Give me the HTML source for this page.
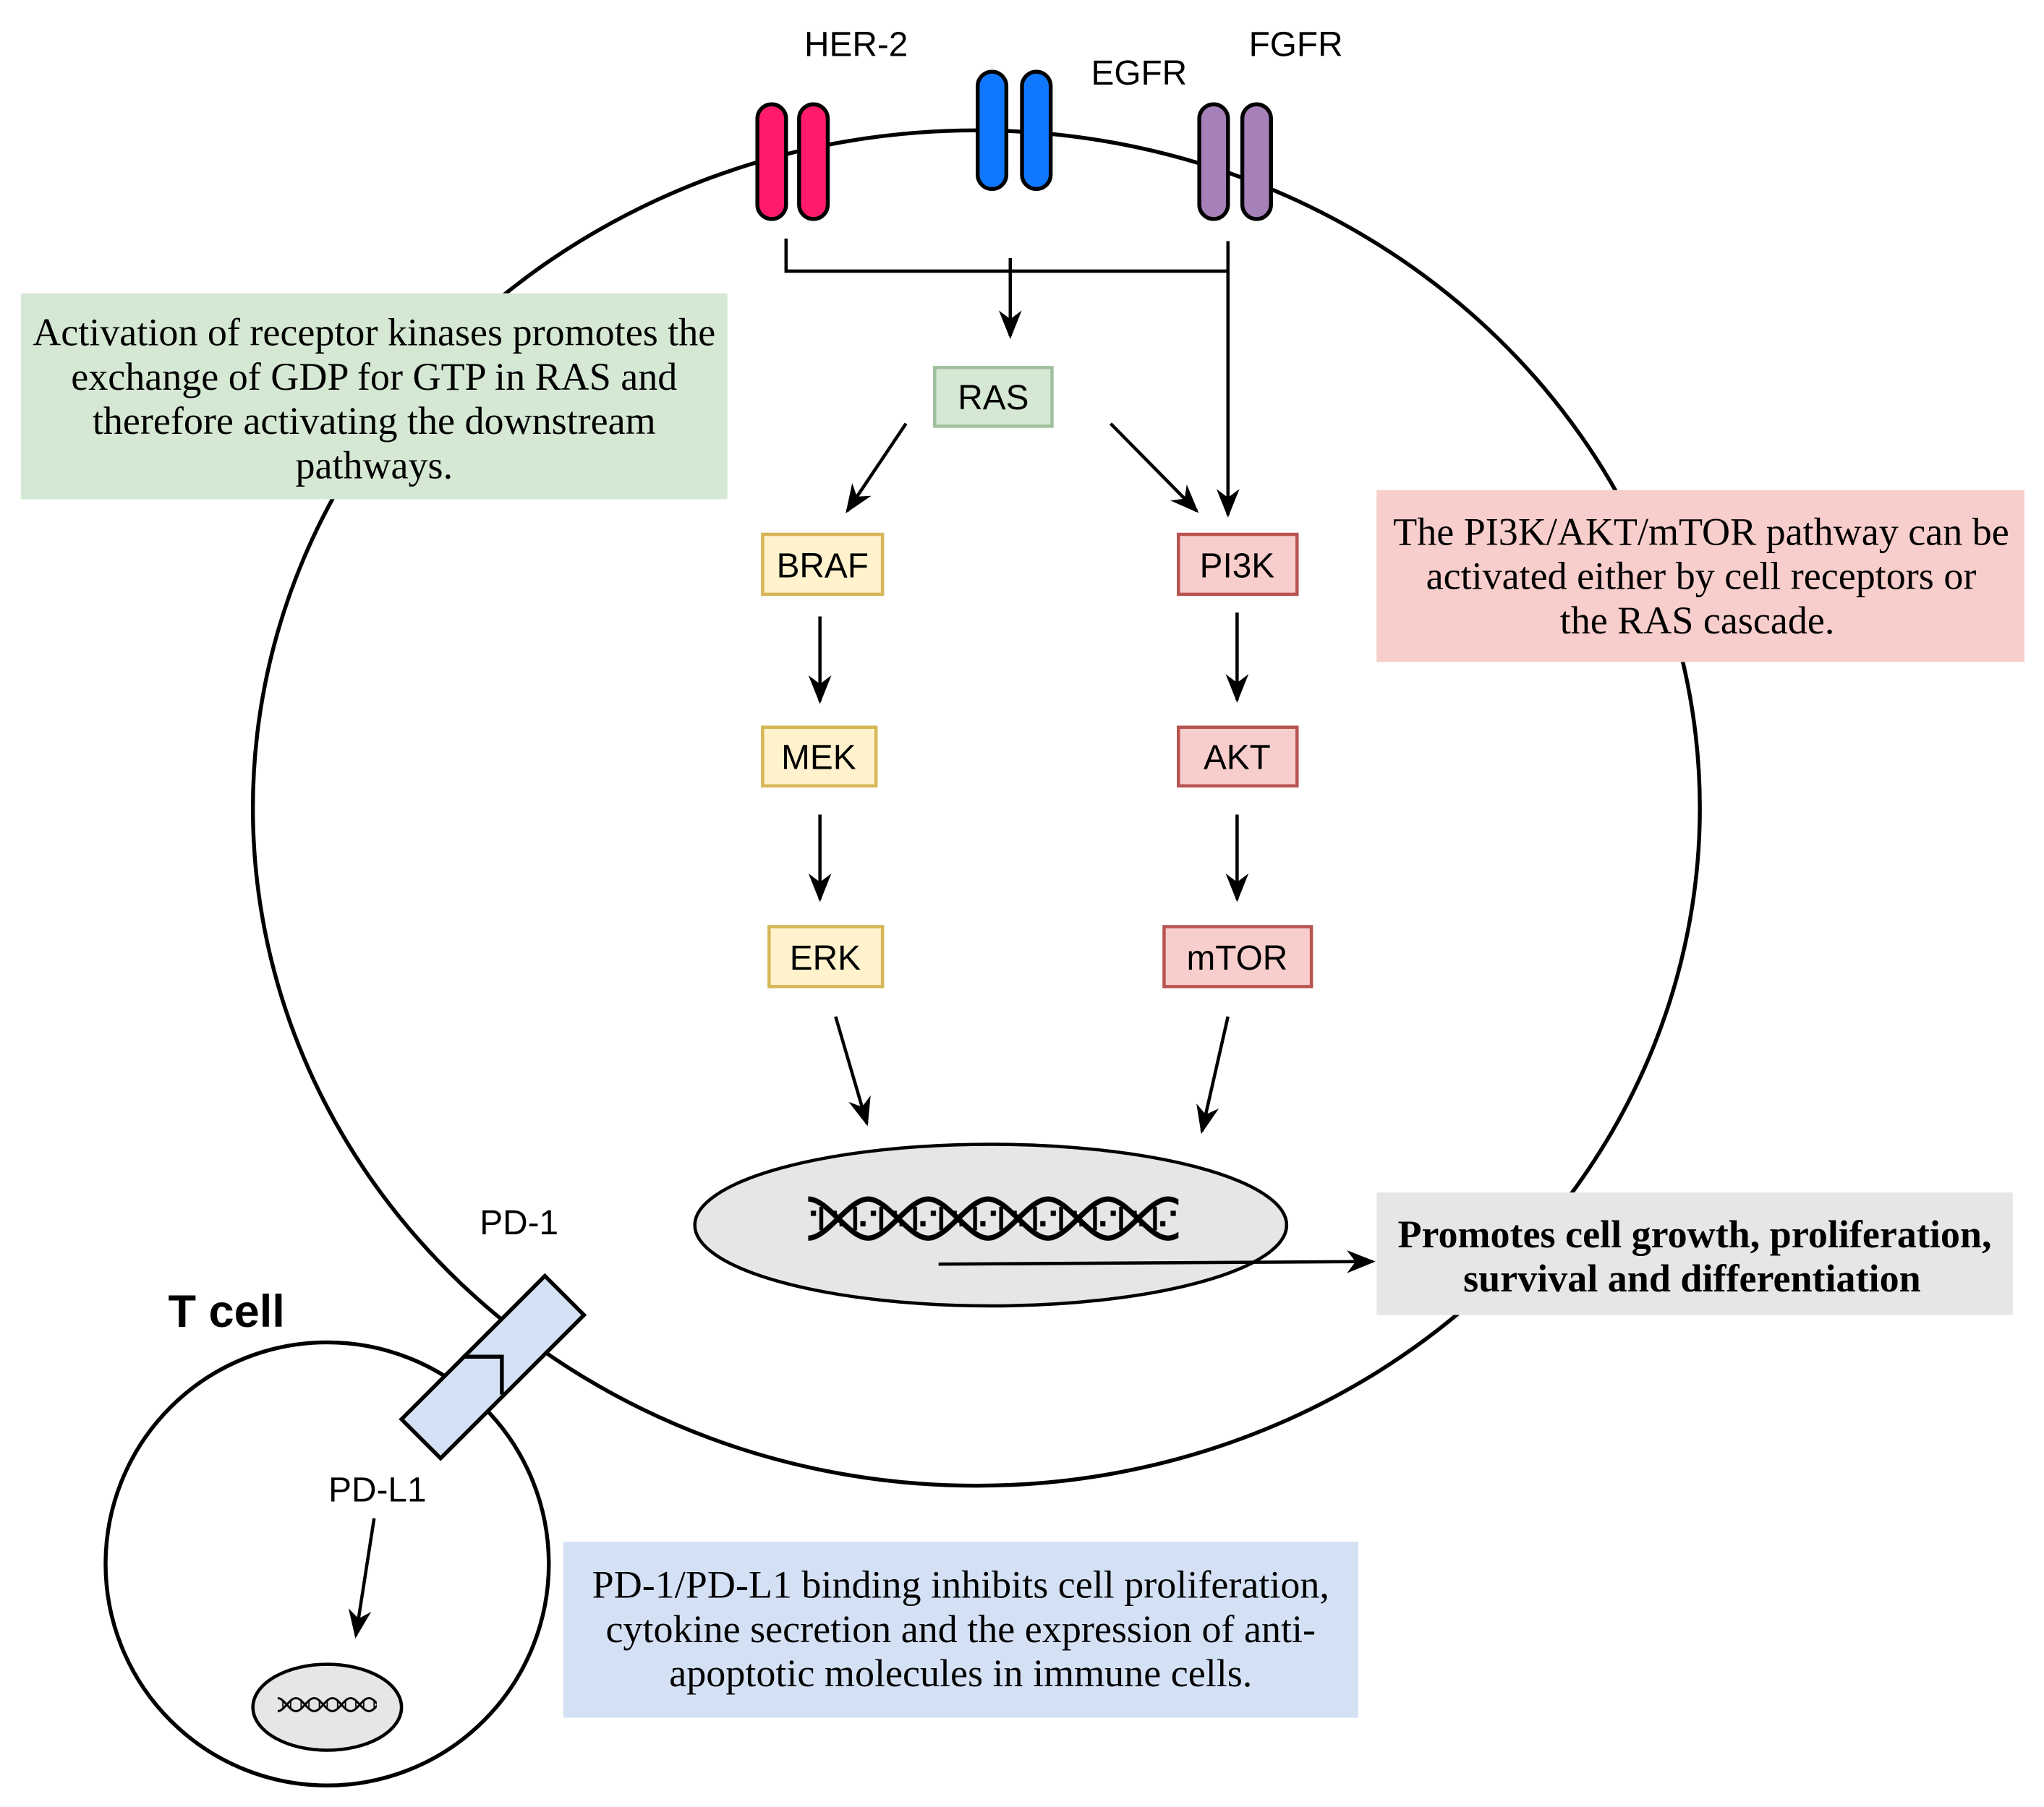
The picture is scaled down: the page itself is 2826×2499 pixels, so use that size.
<!DOCTYPE html>
<html><head><meta charset="utf-8"><style>
html,body{margin:0;padding:0;background:#fff;}
svg{display:block;}
.s{font-family:"Liberation Sans",sans-serif;font-size:26.5px;}
.r{font-family:"Liberation Serif",serif;font-size:30px;}
</style></head><body>
<svg width="2826" height="2499" viewBox="0 0 1568 1386.5" xmlns="http://www.w3.org/2000/svg">
<defs>
<marker id="b" viewBox="0 0 10 10" refX="9" refY="5" markerWidth="22" markerHeight="22" markerUnits="userSpaceOnUse" orient="auto"><path d="M0,1 L10,5 L0,9 L3,5 z" fill="#000"/></marker>
<pattern id="dna" x="620" y="918" width="46" height="34" patternUnits="userSpaceOnUse">
<path d="M0,2 C15,2 31,32 46,32 M0,32 C15,32 31,2 46,2" fill="none" stroke="#000" stroke-width="4"/>
<path d="M10,8 V26 M36,8 V26" stroke="#000" stroke-width="3"/>
<rect x="18" y="11" width="4" height="4"/><rect x="24" y="19" width="4" height="4"/>
<rect x="2" y="11" width="4" height="4"/><rect x="40" y="19" width="4" height="4"/>
</pattern>
<pattern id="dna2" x="213" y="1302" width="14" height="12" patternUnits="userSpaceOnUse">
<path d="M0,1 C5,1 9,11 14,11 M0,11 C5,11 9,1 14,1" fill="none" stroke="#000" stroke-width="1.6"/>
<path d="M4,3 V9 M10,3 V9" stroke="#000" stroke-width="1"/>
</pattern>
</defs>

<ellipse cx="749" cy="620" rx="555" ry="520" fill="none" stroke="#000" stroke-width="3"/>
<circle cx="251" cy="1200" r="170" fill="#fff" stroke="#000" stroke-width="3"/>

<g stroke="#000" stroke-width="3">
<rect x="581" y="80" width="22" height="88" rx="11" fill="#ff1a6b"/>
<rect x="613" y="80" width="22" height="88" rx="11" fill="#ff1a6b"/>
<rect x="750" y="55" width="22" height="90" rx="11" fill="#0f78ff"/>
<rect x="784" y="55" width="22" height="90" rx="11" fill="#0f78ff"/>
<rect x="920" y="80" width="22" height="88" rx="11" fill="#a680b8"/>
<rect x="953" y="80" width="22" height="88" rx="11" fill="#a680b8"/>
</g>
<text class="s" x="617" y="43">HER-2</text>
<text class="s" x="837" y="65">EGFR</text>
<text class="s" x="958" y="43">FGFR</text>

<g stroke="#000" stroke-width="2.5" fill="none">
<path d="M603,183 V208 H942 V185"/>
<path d="M775,198 V208"/>
<path d="M775,208 V258" marker-end="url(#b)"/>
<path d="M942,208 V395" marker-end="url(#b)"/>
<path d="M695,325 L650,392" marker-end="url(#b)"/>
<path d="M852,325 L918,392" marker-end="url(#b)"/>
<path d="M629,473 V538" marker-end="url(#b)"/>
<path d="M629,625 V690" marker-end="url(#b)"/>
<path d="M949,470 V537" marker-end="url(#b)"/>
<path d="M949,625 V690" marker-end="url(#b)"/>
<path d="M641,780 L665,862" marker-end="url(#b)"/>
<path d="M942,780 L922,868" marker-end="url(#b)"/>
</g>

<g stroke-width="2.5">
<rect x="717" y="282" width="90" height="45" fill="#d5e8d4" stroke="#9fc09d"/>
<rect x="585" y="410" width="92" height="46" fill="#fff2cc" stroke="#d6b656"/>
<rect x="585" y="558" width="87" height="45" fill="#fff2cc" stroke="#d6b656"/>
<rect x="590" y="711" width="87" height="46" fill="#fff2cc" stroke="#d6b656"/>
<rect x="904" y="410" width="91" height="46" fill="#f8cecc" stroke="#b85450"/>
<rect x="904" y="558" width="91" height="45" fill="#f8cecc" stroke="#b85450"/>
<rect x="893" y="711" width="113" height="46" fill="#f8cecc" stroke="#b85450"/>
</g>
<g class="s" text-anchor="middle">
<text x="762" y="314">RAS</text>
<text x="631" y="443">BRAF</text>
<text x="628" y="590">MEK</text>
<text x="633" y="744">ERK</text>
<text x="949" y="443">PI3K</text>
<text x="949" y="590">AKT</text>
<text x="949" y="744">mTOR</text>
</g>

<ellipse cx="760" cy="940" rx="227" ry="62" fill="#e6e6e6" stroke="#000" stroke-width="2.5"/>
<rect x="620" y="918" width="284" height="34" fill="url(#dna)"/>
<path d="M720,970 L1053,968" stroke="#000" stroke-width="2.5" marker-end="url(#b)"/>

<rect x="16" y="225" width="542" height="158" fill="#d5e8d4"/>
<g class="r" text-anchor="middle">
<text x="287" y="265">Activation of receptor kinases promotes the</text>
<text x="287" y="299">exchange of GDP for GTP in RAS and</text>
<text x="287" y="333">therefore activating the downstream</text>
<text x="287" y="367">pathways.</text>
</g>
<rect x="1056" y="376" width="497" height="132" fill="#f8cecc"/>
<g class="r" text-anchor="middle">
<text x="1305" y="418">The PI3K/AKT/mTOR pathway can be</text>
<text x="1305" y="452">activated either by cell receptors or</text>
<text x="1302" y="486">the RAS cascade.</text>
</g>
<rect x="1056" y="915" width="488" height="94" fill="#e6e6e6"/>
<g class="r" text-anchor="middle" font-weight="bold">
<text x="1300" y="957">Promotes cell growth, proliferation,</text>
<text x="1298" y="991">survival and differentiation</text>
</g>
<rect x="432" y="1183" width="610" height="135" fill="#d4e1f5"/>
<g class="r" text-anchor="middle">
<text x="737" y="1226">PD-1/PD-L1 binding inhibits cell proliferation,</text>
<text x="737" y="1260">cytokine secretion and the expression of anti-</text>
<text x="737" y="1294">apoptotic molecules in immune cells.</text>
</g>

<path d="M418,979 L448,1009 L338,1119 L308,1089 Z" fill="#d4e1f5" stroke="#000" stroke-width="3"/>
<path d="M355,1041 H385 V1070" fill="none" stroke="#000" stroke-width="3"/>
<text class="s" x="368" y="947">PD-1</text>
<text x="129" y="1018" font-family="Liberation Sans,sans-serif" font-size="35" font-weight="bold">T cell</text>
<text class="s" x="252" y="1152">PD-L1</text>
<path d="M287,1165 L273,1255" stroke="#000" stroke-width="2.5" marker-end="url(#b)"/>
<ellipse cx="251" cy="1310" rx="57" ry="33" fill="#e6e6e6" stroke="#000" stroke-width="2.5"/>
<rect x="213" y="1302" width="76" height="12" fill="url(#dna2)"/>
</svg>
</body></html>
